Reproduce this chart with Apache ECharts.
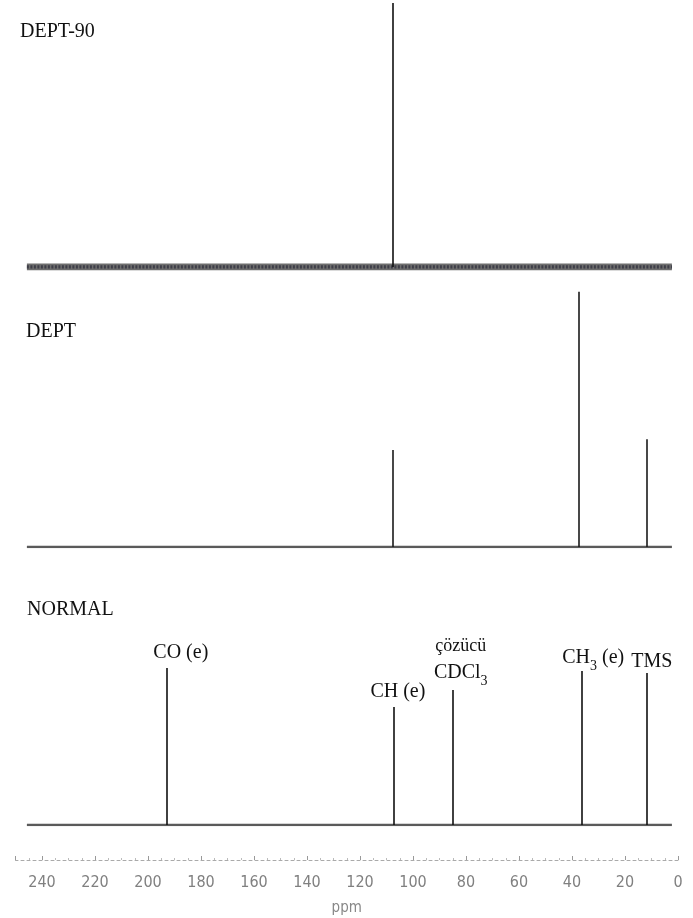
<!DOCTYPE html>
<html>
<head>
<meta charset="utf-8">
<script src="https://cdn.jsdelivr.net/npm/echarts@6/dist/echarts.min.js"></script>
<style>html,body{margin:0;padding:0;background:#fff}#c{width:693px;height:918px}</style>
</head>
<body>
<div id="c"></div>
<script>
// Data (chemical shift in ppm, intensity in arbitrary units)
var spectrumNames = ['DEPT-90', 'DEPT', 'NORMAL'];
var baselineRange = [245.7, 2.3];
var dept90Shifts = [107.7];
var dept90Heights = [117.3];
var deptShifts = [107.8, 37.5, 11.8];
var deptHeights = [43.1, 113.5, 47.9];
var normalShifts = [192.9, 107.2, 85.0, 36.5, 11.8];
var normalHeights = [69.8, 52.4, 60.0, 68.4, 67.6];
var normalLabels = ['{b|CO (e)}', '{b|CH (e)}', '{s|çözücü}\n{b|CDCl}{sub|3}', '{b|CH}{sub|3}{b| (e)}', '{b|TMS}'];
var tickLabels = ['0','20','40','60','80','100','120','140','160','180','200','220','240'];

var serif = "'Liberation Serif', 'DejaVu Serif', serif";
var narrow = "'Liberation Sans Narrow', 'DejaVu Sans Condensed', sans-serif";
var labelOffsets = [[14, 0], [4, 0], [8, -2], [12, 2], [5, 4]];

function peakLines(shifts, heights, color) {
  return shifts.map(function (x, i) {
    return [{ coord: [x, 0], lineStyle: { color: color, width: 1.6, type: 'solid' } }, { coord: [x, heights[i]] }];
  });
}
function baseline(range) {
  return [[range[0], 0], [range[1], 0]];
}

var grids = [
  { left: 15.5, right: 15, top: 1.5, height: 265.5 },
  { left: 15.5, right: 15, top: 281.5, height: 265.5 },
  { left: 15.5, right: 15, top: 559.5, height: 265.5 },
  { left: 15.5, right: 15, top: 859, height: 1 }
];

var xAxes = grids.map(function (g, i) {
  var ax = {
    type: 'value', gridIndex: i, min: 0, max: 250, interval: 20, inverse: true,
    show: i === 3, splitLine: { show: false }
  };
  if (i === 3) {
    ax.position = 'bottom';
    ax.axisLine = { show: true, lineStyle: { color: '#aaa', width: 1, type: [3, 3] } };
    ax.axisTick = { show: true, inside: true, length: 4, lineStyle: { color: '#999' } };
    ax.minorTick = { show: true, splitNumber: 4, length: 2, lineStyle: { color: '#bbb' } };
    ax.axisLabel = {
      showMaxLabel: false, margin: 15, fontSize: 16, color: '#808080', fontFamily: narrow,
      formatter: function (v) { var s = String(v); return tickLabels.indexOf(s) >= 0 ? s : ''; }
    };
    ax.name = 'ppm';
    ax.nameLocation = 'middle';
    ax.nameGap = 41;
    ax.nameTextStyle = { fontSize: 15, color: '#888', fontFamily: narrow };
  }
  return ax;
});
var yAxes = grids.map(function (g, i) {
  return { type: 'value', gridIndex: i, min: 0, max: 118, show: false };
});

function baseSeries(idx, width, color, shifts, heights, peakColor) {
  return {
    type: 'line', xAxisIndex: idx, yAxisIndex: idx, data: baseline(baselineRange),
    symbol: 'none', silent: true,
    lineStyle: { color: color, width: width },
    markLine: { silent: true, symbol: 'none', label: { show: false }, animation: false, data: peakLines(shifts, heights, peakColor) }
  };
}

var series = [
  baseSeries(0, 7, '#6e6e6e', dept90Shifts, dept90Heights, '#111'),
  { type: 'line', xAxisIndex: 0, yAxisIndex: 0, data: baseline(baselineRange), symbol: 'none', silent: true,
    lineStyle: { color: '#3e3e48', width: 3.5, type: [2, 1.5] } },
  baseSeries(1, 2.6, '#5a5a5a', deptShifts, deptHeights, '#1a1a1a'),
  baseSeries(2, 2.6, '#5a5a5a', normalShifts, normalHeights, '#111'),
  {
    type: 'scatter', xAxisIndex: 2, yAxisIndex: 2, symbolSize: 0, silent: true,
    itemStyle: { opacity: 1 },
    data: normalShifts.map(function (x, i) {
      return {
        value: [x, normalHeights[i]],
        label: {
          show: true, position: 'top', distance: 5, offset: labelOffsets[i],
          formatter: normalLabels[i], align: 'center', opacity: 1,
          rich: {
            b: { fontFamily: serif, fontSize: 20, color: '#111', lineHeight: 26, verticalAlign: 'bottom' },
            s: { fontFamily: serif, fontSize: 18, color: '#111', lineHeight: 22 },
            sub: { fontFamily: serif, fontSize: 14, color: '#111', lineHeight: 18, verticalAlign: 'bottom', padding: [0, 0, -5, 0] }
          }
        }
      };
    })
  }
];

var titles = [
  { text: spectrumNames[0], left: 20, top: 22 },
  { text: spectrumNames[1], left: 26, top: 322 },
  { text: spectrumNames[2], left: 27, top: 600 }
].map(function (t) {
  t.padding = 0;
  t.textStyle = { fontFamily: serif, fontSize: 20, fontWeight: 'normal', color: '#111' };
  return t;
});

var chart = echarts.init(document.getElementById('c'));
chart.setOption({
  animation: false,
  backgroundColor: '#fff',
  title: titles,
  grid: grids,
  xAxis: xAxes,
  yAxis: yAxes,
  series: series
});
</script>
</body>
</html>
